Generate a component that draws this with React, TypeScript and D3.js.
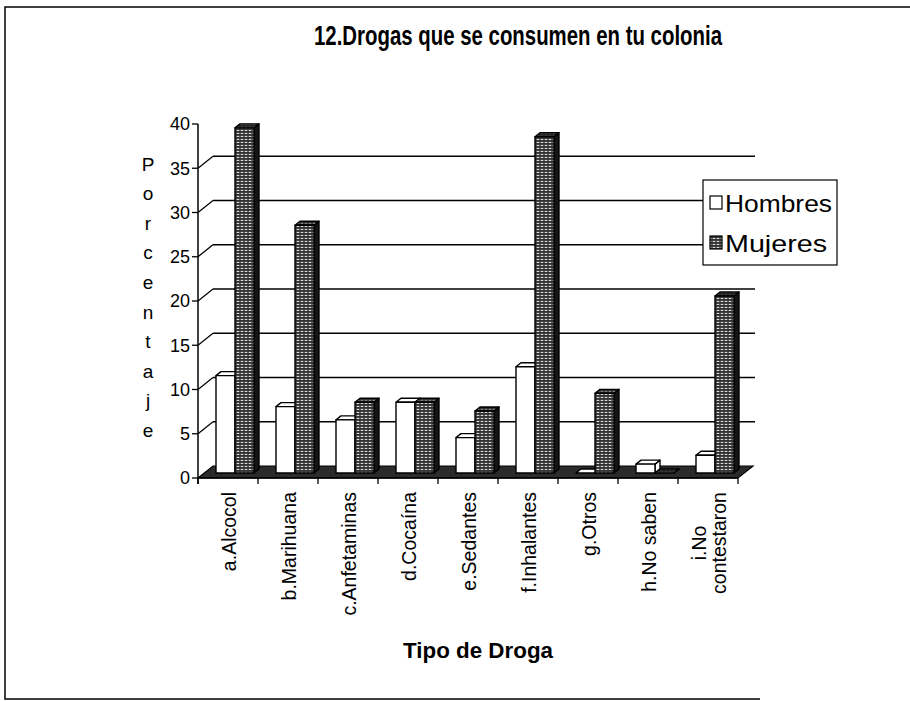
import { scaleBand, scaleLinear, range } from 'd3';

// 3D clustered columns drawn as flat SVG: front face, top face and side face per bar.

const categories = [
  'a.Alcocol',
  'b.Marihuana',
  'c.Anfetaminas',
  'd.Cocaína',
  'e.Sedantes',
  'f.Inhalantes',
  'g.Otros',
  'h.No saben',
  'i.No contestaron',
];
const series = ['Hombres', 'Mujeres'];
const hombres = [11, 7.5, 6, 8, 4, 12, 0, 1, 2];
const mujeres = [39, 28, 8, 8, 7, 38, 9, 0, 20];
const yTicks = [0, 5, 10, 15, 20, 25, 30, 35, 40];
const yTitle = 'Porcentaje';
const title = '12.Drogas que se consumen en tu colonia';
const xTitle = 'Tipo de Droga';

const W = 910;
const H = 701;
const FONT = "Arial, 'Liberation Sans', sans-serif";

export default function App() {
  const left = 198;
  const right = 738;
  const base = 478;
  const depth = { x: 15, y: -12 }; // floor depth
  const shift = { x: 6, y: -5 }; // bar plane inside the floor
  const bd = { x: 5, y: -4 }; // depth of one bar

  const x = scaleBand<string>().domain(categories).range([left, right]);
  const xs = scaleBand<string>().domain(series).range([12, 50]);
  const h = scaleLinear().domain([0, 40]).range([0, 354]);

  const front = (v: number) => base - h(v);
  const back = (v: number) => base + depth.y - h(v);

  const bar = (cat: string, s: string, v: number, key: string) => {
    const x0 = x(cat)! + xs(s)! + shift.x;
    const w = xs.bandwidth();
    const yb = base + shift.y;
    const yt = yb - h(v);
    const isM = s === 'Mujeres';
    const top = `M${x0},${yt}L${x0 + bd.x},${yt + bd.y}L${x0 + w + bd.x},${yt + bd.y}L${x0 + w},${yt}Z`;
    const side = `M${x0 + w},${yt}L${x0 + w + bd.x},${yt + bd.y}L${x0 + w + bd.x},${yb + bd.y}L${x0 + w},${yb}Z`;
    return (
      <g key={key} stroke="#000" strokeWidth={1.4} strokeLinejoin="round">
        <path d={side} fill={isM ? '#151515' : '#fff'} />
        <path d={top} fill={isM ? 'url(#hatchTop)' : '#fff'} />
        <rect x={x0} y={yt} width={w} height={yb - yt} fill={isM ? 'url(#hatch)' : '#fff'} />
      </g>
    );
  };

  const floor = `M${left},${base}L${left + depth.x},${base + depth.y}L${right + depth.x},${base + depth.y}L${right},${base}Z`;

  return (
    <svg width={W} height={H} style={{ position: 'absolute', left: 0, top: 0, background: '#fff' }} fontFamily={FONT}>
      <defs>
        <pattern id="hatch" width={4} height={3} patternUnits="userSpaceOnUse">
          <rect width={4} height={3} fill="#333" />
          <rect x={0.7} y={0.9} width={2.6} height={1.1} fill="#ddd" />
        </pattern>
        <pattern id="hatchTop" width={4} height={3} patternUnits="userSpaceOnUse">
          <rect width={4} height={3} fill="#222" />
          <rect x={0.6} y={0.8} width={2.8} height={1} fill="#999" />
        </pattern>
      </defs>

      {/* outer frame */}
      <path d={`M${W},7L5,7L5,699L760,699`} fill="none" stroke="#000" strokeWidth={1.5} />

      <text x={518} y={45} textAnchor="middle" fontSize={27} fontWeight="bold" textLength={408} lengthAdjust="spacingAndGlyphs">
        {title}
      </text>

      {/* back wall gridlines + side wall */}
      {yTicks.slice(1, -1).map((t) => (
        <g key={t} stroke="#000" strokeWidth={1.3}>
          <line x1={left} y1={front(t)} x2={left + depth.x} y2={back(t)} />
          <line x1={left + depth.x} y1={back(t)} x2={right + depth.x + 2} y2={back(t)} />
        </g>
      ))}

      <path d={floor} fill="#2b2b2b" stroke="#000" strokeWidth={1.2} />

      {categories.map((c, i) => (
        <g key={c}>
          {bar(c, 'Hombres', hombres[i], 'h')}
          {bar(c, 'Mujeres', mujeres[i], 'm')}
        </g>
      ))}

      {/* y axis */}
      <line x1={left} y1={front(40)} x2={left} y2={base + 6} stroke="#000" strokeWidth={1.5} />
      <line x1={left} y1={base} x2={right} y2={base} stroke="#000" strokeWidth={1.5} />
      {yTicks.map((t) => (
        <g key={t}>
          <line x1={left - 6} y1={front(t)} x2={left} y2={front(t)} stroke="#000" strokeWidth={1.3} />
          <text x={left - 8} y={front(t)} dy="0.35em" textAnchor="end" fontSize={18}>
            {t}
          </text>
        </g>
      ))}

      {range(categories.length + 1).map((i) => (
        <line key={i} x1={left + i * x.step()} y1={base} x2={left + i * x.step()} y2={base + 6} stroke="#000" strokeWidth={1.3} />
      ))}

      {yTitle.split('').map((ch, i) => (
        <text key={i} x={148} y={164 + i * 29.6} dy="0.35em" textAnchor="middle" fontSize={19}>
          {ch}
        </text>
      ))}

      {/* category labels */}
      {categories.map((c) => {
        const cx = x(c)! + x.bandwidth() / 2 + 1;
        if (c === 'i.No contestaron') {
          return (
            <g key={c} transform={`translate(${cx},543) rotate(-90)`} fontSize={19.5}>
              <text x={0} y={-10} dy="0.35em" textAnchor="middle">i.No</text>
              <text x={0} y={10} dy="0.35em" textAnchor="middle">contestaron</text>
            </g>
          );
        }
        return (
          <text key={c} transform={`translate(${cx},492) rotate(-90)`} dy="0.35em" textAnchor="end" fontSize={19.5}>
            {c}
          </text>
        );
      })}

      <text x={478} y={658} textAnchor="middle" fontSize={22} fontWeight="bold" textLength={150} lengthAdjust="spacingAndGlyphs">
        {xTitle}
      </text>

      {/* legend */}
      <rect x={703} y={180} width={134} height={85} fill="#fff" stroke="#000" strokeWidth={1.2} />
      <rect x={710} y={196} width={12} height={13} fill="#fff" stroke="#000" strokeWidth={1.2} />
      <text x={725} y={212} fontSize={24} textLength={107} lengthAdjust="spacingAndGlyphs">Hombres</text>
      <rect x={710} y={236} width={12} height={13} fill="url(#hatch)" stroke="#000" strokeWidth={1.2} />
      <text x={725} y={252} fontSize={24} textLength={102} lengthAdjust="spacingAndGlyphs">Mujeres</text>
    </svg>
  );
}
